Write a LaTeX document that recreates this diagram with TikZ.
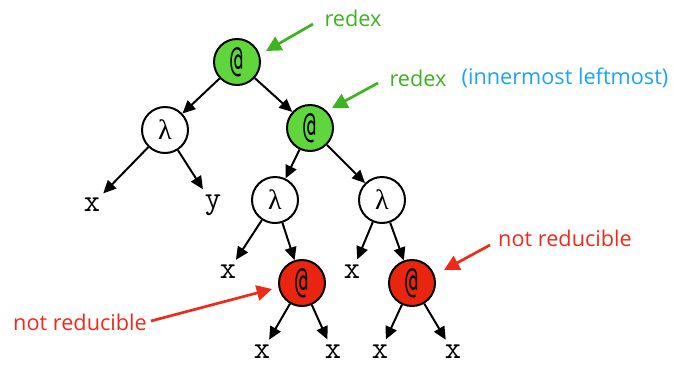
\documentclass[tikz,border=0pt]{standalone}
\usepackage{fontspec}
\setmainfont{Open Sans}
\newfontfamily\lamfont{Liberation Serif}
\newfontfamily\atfont{DejaVu Sans Mono}
\usetikzlibrary{arrows.meta}
\definecolor{redexgreen}{HTML}{5FD63C}
\definecolor{redexlabel}{HTML}{3DB321}
\definecolor{stuckred}{HTML}{E9240F}
\definecolor{notelabel}{HTML}{F02A1A}
\definecolor{noteblue}{HTML}{1CA3F2}
\newcommand{\appsym}{\scalebox{0.72}[1.2]{\atfont @}}
\tikzset{
  term/.style={circle, draw, line width=1.7pt, minimum size=1.38cm, inner sep=0pt, font=\lamfont\fontsize{24}{24}\selectfont},
  app/.style={term, font=\fontsize{25}{25}\selectfont},
  leaf/.style={inner sep=1pt, font=\ttfamily\fontsize{27}{27}\selectfont},
  edge/.style={line width=1.7pt, -{Triangle[length=11pt,width=10pt]}},
  leafedge/.style={edge, shorten >=4pt},
  note/.style={font=\fontsize{18.5}{18.5}\selectfont, inner sep=1pt},
  pointer/.style={line width=2.3pt, -{Triangle[length=13pt,width=13pt]}}
}
\begin{document}
\begin{tikzpicture}[x=0.03cm, y=-0.03cm]
  \useasboundingbox (0,0) rectangle (673,365);

  % term tree
  \node[app, fill=redexgreen] (root) at (237,62) {\appsym};
  \node[term] (lamL) at (165,130) {λ};
  \node[app, fill=redexgreen] (appR) at (310,128) {\appsym};
  \node[leaf] (xL) at (92,205) {x};
  \node[leaf] (yL) at (213,205) {y};
  \node[term] (lam1) at (275,200) {λ};
  \node[term] (lam2) at (382,200) {λ};
  \node[leaf] (x1) at (228,272) {x};
  \node[app, fill=stuckred] (app1) at (302,283) {\appsym};
  \node[leaf] (x2) at (352,272) {x};
  \node[app, fill=stuckred] (app2) at (412,283) {\appsym};
  \node[leaf] (x3) at (262,352) {x};
  \node[leaf] (x4) at (333,352) {x};
  \node[leaf] (x5) at (380,352) {x};
  \node[leaf] (x6) at (453,352) {x};

  \draw[edge] (root) -- (lamL);
  \draw[edge] (root) -- (appR);
  \draw[leafedge] (lamL) -- (xL);
  \draw[leafedge] (lamL) -- (yL);
  \draw[edge] (appR) -- (lam1);
  \draw[edge] (appR) -- (lam2);
  \draw[leafedge] (lam1) -- (x1);
  \draw[edge] (lam1) -- (app1);
  \draw[leafedge] (lam2) -- (x2);
  \draw[edge] (lam2) -- (app2);
  \draw[leafedge] (app1) -- (x3);
  \draw[leafedge] (app1) -- (x4);
  \draw[leafedge] (app2) -- (x5);
  \draw[leafedge] (app2) -- (x6);

  % annotations
  \node[note, text=redexlabel] (redexTop) at (353,18) {redex};
  \node[note, text=redexlabel] (redexIn) at (418,78) {redex};
  \node[note, text=noteblue] (inner) at (565,78) {(innermost leftmost)};
  \node[note, text=notelabel] (stuckR) at (565,238) {not reducible};
  \node[note, text=notelabel] (stuckL) at (80,322) {not reducible};

  \coordinate (tipTop) at (266,51);
  \coordinate (tipIn) at (332,108);
  \coordinate (tipR) at (444,270);
  \coordinate (tipL) at (272,289);

  \draw[pointer, redexlabel] (313,24) -- (tipTop);
  \draw[pointer, redexlabel] (378,83) -- (tipIn);
  \draw[pointer, notelabel] (490,245) -- (tipR);
  \draw[pointer, notelabel] (151,321) -- (tipL);
\end{tikzpicture}
\end{document}
